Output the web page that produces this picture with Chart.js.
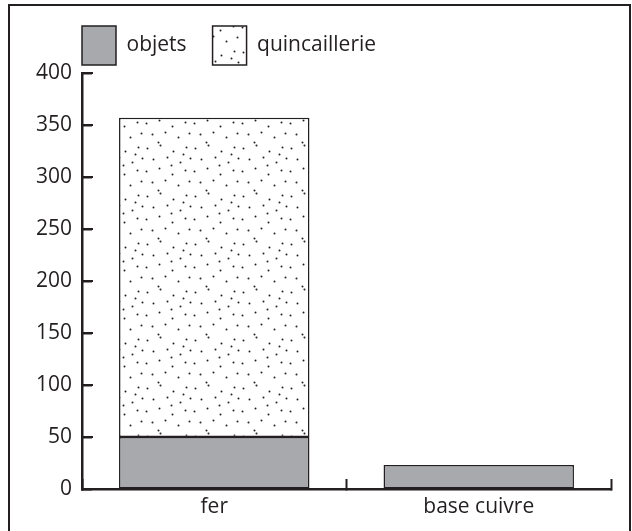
<!DOCTYPE html>
<html>
<head>
<meta charset="utf-8">
<script src="https://cdn.jsdelivr.net/npm/chart.js@4.4.1/dist/chart.umd.min.js"></script>
<style>
  html, body { margin: 0; padding: 0; background: #fff; }
  #wrap { position: relative; width: 632px; height: 531px; overflow: hidden; }
  #frame { position: absolute; left: 8px; top: 4px; width: 619px; height: 600px;
           border: 2px solid #231f20; border-bottom: none; }
  #chart { position: absolute; left: 0; top: 0; }
</style>
</head>
<body>
<div id="wrap">
  <div id="frame"></div>
  <canvas id="chart" width="632" height="531"></canvas>
</div>
<script>
const categories = ["fer", "base cuivre"];
const objets = [50, 23];
const quincaillerie = [307, null];
const yMin = 0;
const yMax = 400;
const yStep = 50;

const ink = "#231f20";
const grey = "#a7a9ac";
const legendX = 82;   // left edge of the first legend box
const legendGap = 26;

// scattered dots for the "quincaillerie" fill
function dotPattern() {
  const tile = document.createElement("canvas");
  tile.width = 48;
  tile.height = 48;
  const c = tile.getContext("2d");
  c.fillStyle = "#fff";
  c.fillRect(0, 0, 48, 48);
  c.fillStyle = ink;
  const spots = [
    [3, 4], [16, 1], [29, 7], [42, 3], [9, 15], [23, 13], [36, 18], [46, 14],
    [2, 27], [15, 24], [28, 30], [41, 26], [8, 38], [21, 36], [34, 41], [45, 37],
    [14, 46], [39, 10], [27, 21]
  ];
  spots.forEach(([x, y]) => {
    c.beginPath();
    c.arc(x + 0.5, y + 0.5, 1, 0, Math.PI * 2);
    c.fill();
  });
  return document.getElementById("chart").getContext("2d").createPattern(tile, "repeat");
}

// move the legend so its first box lines up with the y axis
const legendShift = {
  id: "legendShift",
  afterLayout(chart) {
    chart.legend.left = legendX - legendGap;
  }
};

// short tick marks pointing into the plot from the y axis
const yInnerTicks = {
  id: "yInnerTicks",
  afterDraw(chart) {
    const y = chart.scales.y;
    const ctx = chart.ctx;
    ctx.save();
    ctx.strokeStyle = ink;
    ctx.lineWidth = 2;
    y.ticks.forEach(t => {
      const py = y.getPixelForValue(t.value);
      ctx.beginPath();
      ctx.moveTo(y.right, py);
      ctx.lineTo(y.right + 11, py);
      ctx.stroke();
    });
    ctx.restore();
  }
};

const font = { family: "'Open Sans', sans-serif", size: 21 };

new Chart(document.getElementById("chart"), {
  type: "bar",
  data: {
    labels: categories,
    datasets: [
      {
        label: "objets",
        data: objets,
        backgroundColor: grey,
        borderColor: ink,
        borderWidth: 1.5,
        borderSkipped: false
      },
      {
        label: "quincaillerie",
        data: quincaillerie,
        backgroundColor: dotPattern(),
        borderColor: ink,
        borderWidth: 1.5,
        borderSkipped: false
      }
    ]
  },
  plugins: [legendShift, yInnerTicks],
  options: {
    responsive: false,
    animation: false,
    layout: { padding: { left: 30, right: 21, top: 0, bottom: 0 } },
    datasets: { bar: { categoryPercentage: 0.72, barPercentage: 1 } },
    plugins: {
      tooltip: { enabled: false },
      legend: {
        position: "top",
        align: "start",
        maxHeight: 73,
        labels: {
          boxWidth: 34,
          boxHeight: 39,
          padding: legendGap,
          color: ink,
          font: font
        }
      }
    },
    scales: {
      x: {
        stacked: true,
        afterFit: s => { s.height = 42; },
        border: { display: true, color: ink, width: 2.5 },
        grid: { drawOnChartArea: false, tickLength: -10, tickWidth: 2, tickColor: ink, offset: true },
        ticks: { color: ink, font: font, padding: 15 }
      },
      y: {
        stacked: true,
        min: yMin,
        max: yMax,
        afterFit: s => { s.width = 52; },
        border: { display: true, color: ink, width: 2.5 },
        grid: { drawOnChartArea: false, tickLength: -10, tickWidth: 2, tickColor: ink },
        ticks: { stepSize: yStep, color: ink, font: font, padding: 20 }
      }
    }
  }
});
</script>
</body>
</html>
